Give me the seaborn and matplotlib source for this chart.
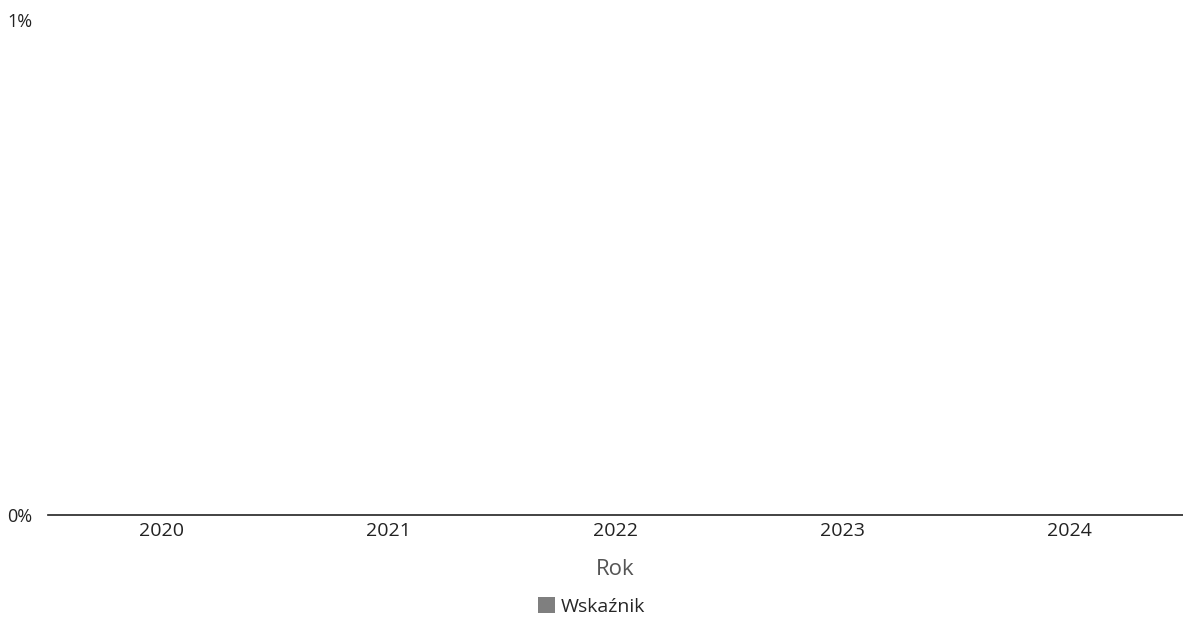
import pandas as pd
import matplotlib.pyplot as plt
import seaborn as sns
from matplotlib.patches import Patch
from matplotlib.ticker import FuncFormatter

# Data (all values are zero)
years = ['2020', '2021', '2022', '2023', '2024']
values = [0, 0, 0, 0, 0]
series_name = 'Wskaźnik'

df = pd.DataFrame({'Rok': years, 'Wartosc': values})

sns.set_style('white')
plt.rcParams['font.family'] = ['Open Sans', 'DejaVu Sans']

fig = plt.figure(figsize=(11.83, 6.22), dpi=100)
ax = fig.add_axes([48 / 1183, 1 - 515 / 622, 1 - 48 / 1183, (515 - 20) / 622])

bar_color = '#7f7f7f'
sns.barplot(data=df, x='Rok', y='Wartosc', color=bar_color, ax=ax, width=0.6)

ax.set_ylim(0, 0.01)
ax.set_yticks([0, 0.01])
ax.yaxis.set_major_formatter(FuncFormatter(lambda v, p: f'{v * 100:.0f}%'))
ax.tick_params(axis='y', length=0, pad=11, labelsize=13, labelcolor='#222222')
ax.tick_params(axis='x', length=0, pad=5, labelsize=14, labelcolor='#222222')

for s in ['top', 'right', 'left']:
    ax.spines[s].set_visible(False)
ax.spines['bottom'].set_color('#222222')
ax.spines['bottom'].set_linewidth(1.2)

ax.set_ylabel('')
ax.set_xlabel('Rok', fontsize=16, color='#555555', labelpad=14)

handles = [Patch(facecolor=bar_color, edgecolor='none', label=series_name)]
fig.legend(handles=handles, loc='lower center', bbox_to_anchor=(0.5, -0.018),
           frameon=False, fontsize=14, handlelength=0.9, handleheight=0.9,
           handletextpad=0.3)

plt.savefig('out.png', dpi=100)
